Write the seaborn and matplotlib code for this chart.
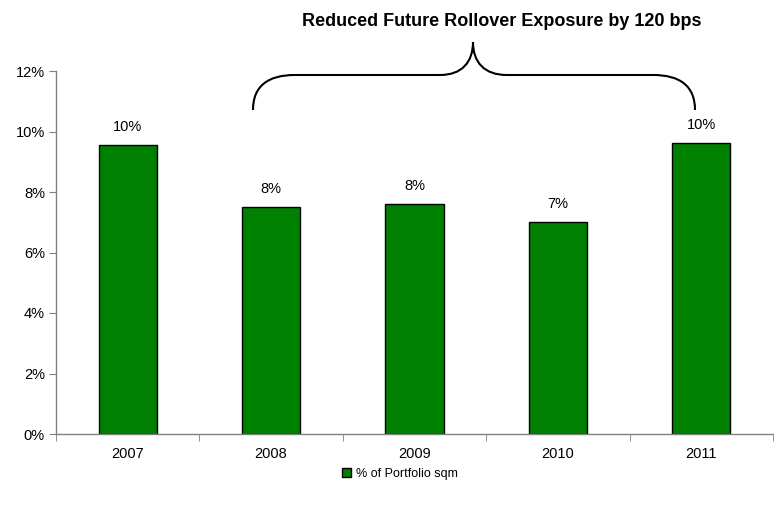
import numpy as np
import matplotlib
matplotlib.use("Agg")
import matplotlib.pyplot as plt
from matplotlib.path import Path
from matplotlib.patches import PathPatch
from matplotlib.ticker import FuncFormatter, FixedLocator
import seaborn as sns

years = ["2007", "2008", "2009", "2010", "2011"]
share_pct = [9.55, 7.5, 7.6, 7.0, 9.62]
bar_labels = ["10%", "8%", "8%", "7%", "10%"]
series_name = "% of Portfolio sqm"
title = "Reduced Future Rollover Exposure by 120 bps"

sns.set_style("white")
plt.rcParams["font.family"] = ["Liberation Sans", "DejaVu Sans"]
plt.rcParams["text.color"] = "black"

W, H = 774, 511
fig = plt.figure(figsize=(W / 100, H / 100), dpi=100)
ax = fig.add_axes([56 / W, 1 - 434 / H, 717 / W, (434 - 71) / H])

sns.barplot(x=years, y=share_pct, color="#008000", saturation=1, width=0.405,
            edgecolor="black", linewidth=1, label=series_name, ax=ax)

ax.set_ylim(0, 12)
ax.set_xlim(-0.5, 4.5)
ax.yaxis.set_major_locator(FixedLocator(np.arange(0, 13, 2)))
ax.yaxis.set_major_formatter(FuncFormatter(lambda v, p: f"{v:.0f}%"))
ax.xaxis.set_minor_locator(FixedLocator(np.arange(-0.5, 5, 1)))
ax.tick_params(axis="x", which="major", length=0, pad=9, labelsize=10.5, labelcolor="black")
ax.tick_params(axis="x", which="minor", length=5, color="#808080", direction="out", bottom=True)
ax.tick_params(axis="y", length=5, color="#808080", direction="out", left=True, pad=3,
               labelsize=10.5, labelcolor="black")
ax.set_xlabel("")
ax.set_ylabel("")

for side in ["top", "right"]:
    ax.spines[side].set_visible(False)
for side in ["left", "bottom"]:
    ax.spines[side].set_color("#808080")
    ax.spines[side].set_linewidth(1)

ax.bar_label(ax.containers[0], labels=bar_labels, padding=8, fontsize=10.5, color="black")

# curly brace over 2008-2011 (figure pixel coordinates)
def px(x, y):
    return (x / W, 1 - y / H)

verts = [px(253, 110), px(253, 86), px(268, 75), px(295, 75),
         px(440, 75),
         px(462, 75), px(473, 62), px(473, 42),
         px(473, 62), px(484, 75), px(507, 75),
         px(653, 75),
         px(680, 75), px(695, 86), px(695, 110)]
codes = [Path.MOVETO, Path.CURVE4, Path.CURVE4, Path.CURVE4,
         Path.LINETO,
         Path.CURVE4, Path.CURVE4, Path.CURVE4,
         Path.CURVE4, Path.CURVE4, Path.CURVE4,
         Path.LINETO,
         Path.CURVE4, Path.CURVE4, Path.CURVE4]
brace = PathPatch(Path(verts, codes), transform=fig.transFigure, fill=False,
                  edgecolor="black", linewidth=1.5)
fig.patches.append(brace)

fig.text(502 / W, 1 - 22 / H, title, ha="center", va="center",
         fontsize=13, fontweight="bold", color="black")

ax.legend(loc="center", bbox_to_anchor=(400 / W, 1 - 474 / H),
          bbox_transform=fig.transFigure, frameon=False, fontsize=9,
          handlelength=0.7, handleheight=0.7, handletextpad=0.4)

fig.savefig("out.png", dpi=100)
